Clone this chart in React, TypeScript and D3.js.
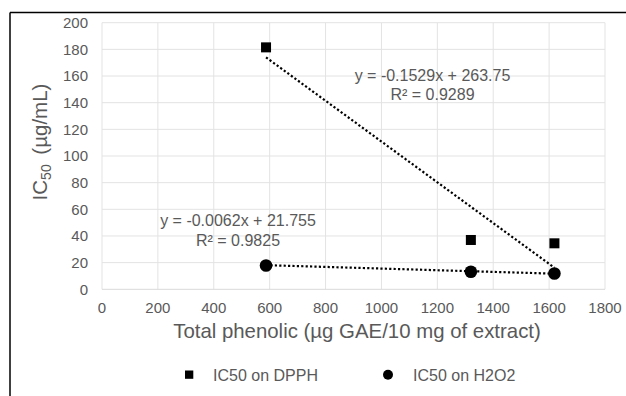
import React from "react";
import * as d3 from "d3";

const xTicks = [0, 200, 400, 600, 800, 1000, 1200, 1400, 1600, 1800];
const yTicks = [0, 20, 40, 60, 80, 100, 120, 140, 160, 180, 200];

const phenolic = [587, 1320, 1619];
const dpphIC50 = [181.5, 37, 34.5];
const h2o2IC50 = [17.8, 13.2, 11.8];

const dpphSlope = -0.1529;
const dpphIntercept = 263.75;
const h2o2Slope = -0.0062;
const h2o2Intercept = 21.755;

const dpphEq = ["y = -0.1529x + 263.75", "R² = 0.9289"];
const h2o2Eq = ["y = -0.0062x + 21.755", "R² = 0.9825"];

const seriesNames = ["IC50 on DPPH", "IC50 on H2O2"];

const W = 626;
const H = 396;
const FONT = "'Liberation Sans', Arial, sans-serif";
const TXT = "#595959";

export default function App() {
  const x = d3.scaleLinear().domain([0, 1800]).range([102, 605]);
  const y = d3.scaleLinear().domain([0, 200]).range([289.3, 22.7]);
  const ext = d3.extent(phenolic) as [number, number];

  const trend = (m: number, b: number) =>
    d3
      .line<number>()
      .x((v) => x(v))
      .y((v) => y(m * v + b))(ext) as string;

  return (
    <svg
      width={W}
      height={H}
      style={{ position: "absolute", left: 0, top: 0, background: "#fff" }}
      fontFamily={FONT}
    >
      <rect x={0} y={0} width={W} height={H} fill="#fff" />
      {/* frame */}
      <line x1={10} y1={12.5} x2={W} y2={12.5} stroke="#000" strokeWidth={1.5} />
      <line x1={10} y1={12.5} x2={10} y2={H} stroke="#000" strokeWidth={1.5} />

      {/* grid */}
      {xTicks.map((t) => (
        <line key={"gx" + t} x1={x(t)} x2={x(t)} y1={y(200)} y2={y(0)} stroke="#e3e3e3" strokeWidth={1} />
      ))}
      {yTicks.map((t) => (
        <line key={"gy" + t} x1={x(0)} x2={x(1800)} y1={y(t)} y2={y(t)} stroke={t === 0 ? "#d9d9d9" : "#e3e3e3"} strokeWidth={1} />
      ))}

      {/* tick labels */}
      {xTicks.map((t) => (
        <text key={"tx" + t} x={x(t)} y={313} textAnchor="middle" fontSize={15} fill={TXT}>
          {t}
        </text>
      ))}
      {yTicks.map((t) => (
        <text key={"ty" + t} x={88} y={y(t) + 5.3} textAnchor="end" fontSize={15} fill={TXT}>
          {t}
        </text>
      ))}

      {/* axis titles */}
      <text x={357} y={338} textAnchor="middle" fontSize={20.4} fill={TXT}>
        Total phenolic (µg GAE/10 mg of extract)
      </text>
      <text transform="translate(47,142) rotate(-90)" textAnchor="middle" fontSize={20.5} fill={TXT}>
        IC
        <tspan fontSize={14} dy={4}>50</tspan>
        <tspan dy={-4} dx={4}> (µg/mL)</tspan>
      </text>

      {/* trendlines */}
      <path d={trend(dpphSlope, dpphIntercept)} stroke="#000" strokeWidth={2.2} strokeDasharray="2.2 2.2" fill="none" />
      <path d={trend(h2o2Slope, h2o2Intercept)} stroke="#000" strokeWidth={2.2} strokeDasharray="2.2 2.2" fill="none" />

      {/* markers */}
      {phenolic.map((p, i) => (
        <rect key={"s" + i} x={x(p) - 5} y={y(dpphIC50[i]) - 5} width={10} height={10} fill="#000" />
      ))}
      {phenolic.map((p, i) => (
        <circle key={"c" + i} cx={x(p)} cy={y(h2o2IC50[i])} r={6.3} fill="#000" />
      ))}

      {/* equations */}
      <text x={432.5} y={81} textAnchor="middle" fontSize={16} fill={TXT}>{dpphEq[0]}</text>
      <text x={432.5} y={99.5} textAnchor="middle" fontSize={16} fill={TXT}>{dpphEq[1]}</text>
      <text x={238} y={226} textAnchor="middle" fontSize={16} fill={TXT}>{h2o2Eq[0]}</text>
      <text x={238} y={246} textAnchor="middle" fontSize={16} fill={TXT}>{h2o2Eq[1]}</text>

      {/* legend */}
      <rect x={185} y={370.5} width={8.3} height={8.3} fill="#000" />
      <text x={213} y={381} fontSize={16} fill={TXT}>{seriesNames[0]}</text>
      <circle cx={388} cy={374.8} r={5} fill="#000" />
      <text x={413} y={381} fontSize={16} fill={TXT}>{seriesNames[1]}</text>
    </svg>
  );
}
